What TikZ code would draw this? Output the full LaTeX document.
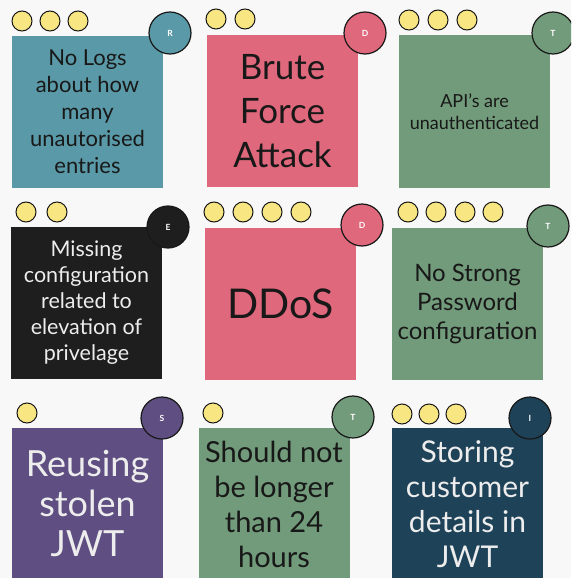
\documentclass[tikz,border=0pt]{standalone}
\usepackage{fontspec}
\setmainfont{Lato}
\definecolor{paper}{HTML}{F8F8F8}
\definecolor{tealcard}{HTML}{5A9AA8}
\definecolor{pinkcard}{HTML}{E0687C}
\definecolor{greencard}{HTML}{719B7A}
\definecolor{blackcard}{HTML}{1E1E1E}
\definecolor{purplecard}{HTML}{5F4E82}
\definecolor{navycard}{HTML}{1E4258}
\definecolor{dotyellow}{HTML}{F8E682}
\definecolor{inkdark}{HTML}{181818}
\definecolor{inklight}{HTML}{EDEDED}
\tikzset{
  card/.style={fill=#1, inner sep=0pt, minimum width=151pt, minimum height=152pt, align=center},
  badge/.style={circle, fill=#1, draw=inkdark, line width=1.2pt, minimum size=42pt, inner sep=0pt,
    text=white, font=\bfseries\fontsize{8.5}{8.5}\selectfont},
  vote/.style={circle, fill=dotyellow, draw=inkdark, line width=1pt, minimum size=20pt, inner sep=0pt},
}
\begin{document}
\begin{tikzpicture}[x=1pt, y=-1pt]
      \useasboundingbox (0,0) rectangle (571,578);
      \clip (0,0) rectangle (571,578);
      \fill[paper] (0,0) rectangle (571,578);
      % cards
      \node[card=tealcard, text=inkdark, font=\fontsize{22}{27}\selectfont] (logs) at (87.5,112)
        {No Logs\\about how\\many\\unautorised\\entries};
      \node[card=pinkcard, text=inkdark, font=\fontsize{35}{44}\selectfont] (brute) at (282.5,111)
        {Brute\\Force\\Attack};
      \node[card=greencard, text=inkdark, font=\fontsize{18}{22}\selectfont] (api) at (474.5,111.5)
        {API's are\\unauthenticated};
      \node[card=blackcard, text=inklight, font=\fontsize{21.5}{26}\selectfont] (elev) at (86.5,302.5)
        {Missing\\configuration\\related to\\elevation of\\privelage};
      \node[card=pinkcard, text=inkdark, font=\fontsize{41}{44}\selectfont] (ddos) at (280.5,304)
        {DDoS};
      \node[card=greencard, text=inkdark, font=\fontsize{24}{29}\selectfont] (pwd) at (467.5,304)
        {No Strong\\Password\\configuration};
      \node[card=purplecard, text=inklight, font=\fontsize{36}{40}\selectfont] (jwt) at (87.5,504)
        {Reusing\\stolen\\JWT};
      \node[card=greencard, text=inkdark, font=\fontsize{29}{35}\selectfont] (expiry) at (274,504)
        {Should not\\be longer\\than 24\\hours};
      \node[card=navycard, text=inklight, font=\fontsize{30}{35}\selectfont] (details) at (467.5,504)
        {Storing\\customer\\details in\\JWT};
      % STRIDE badges
      \node[badge=tealcard] (logsR) at (170,33) {R};
      \node[badge=pinkcard] (bruteD) at (365,33) {D};
      \node[badge=greencard] (apiT) at (553,33) {T};
      \node[badge=blackcard] (elevE) at (168,227) {E};
      \node[badge=pinkcard] (ddosD) at (362,225) {D};
      \node[badge=greencard] (pwdT) at (548,226) {T};
      \node[badge=purplecard] (jwtS) at (162,418) {S};
      \node[badge=greencard] (expiryT) at (353,417) {T};
      \node[badge=navycard] (detailsI) at (530,418) {I};
      % votes
      \foreach \x [count=\i] in {22,50,78} \node[vote] (logs-v\i) at (\x,21) {};
      \foreach \x [count=\i] in {216,245} \node[vote] (brute-v\i) at (\x,19) {};
      \foreach \x [count=\i] in {409,438,467} \node[vote] (api-v\i) at (\x,20) {};
      \foreach \x [count=\i] in {26,57} \node[vote] (elev-v\i) at (\x,212) {};
      \foreach \x [count=\i] in {214,243,272,301} \node[vote] (ddos-v\i) at (\x,212) {};
      \foreach \x [count=\i] in {408,436,465,493} \node[vote] (pwd-v\i) at (\x,212) {};
      \node[vote] (jwt-v1) at (27,413) {};
      \node[vote] (expiry-v1) at (213,413) {};
      \foreach \x [count=\i] in {402,429,456} \node[vote] (details-v\i) at (\x,414) {};
    \end{tikzpicture}
\end{document}
